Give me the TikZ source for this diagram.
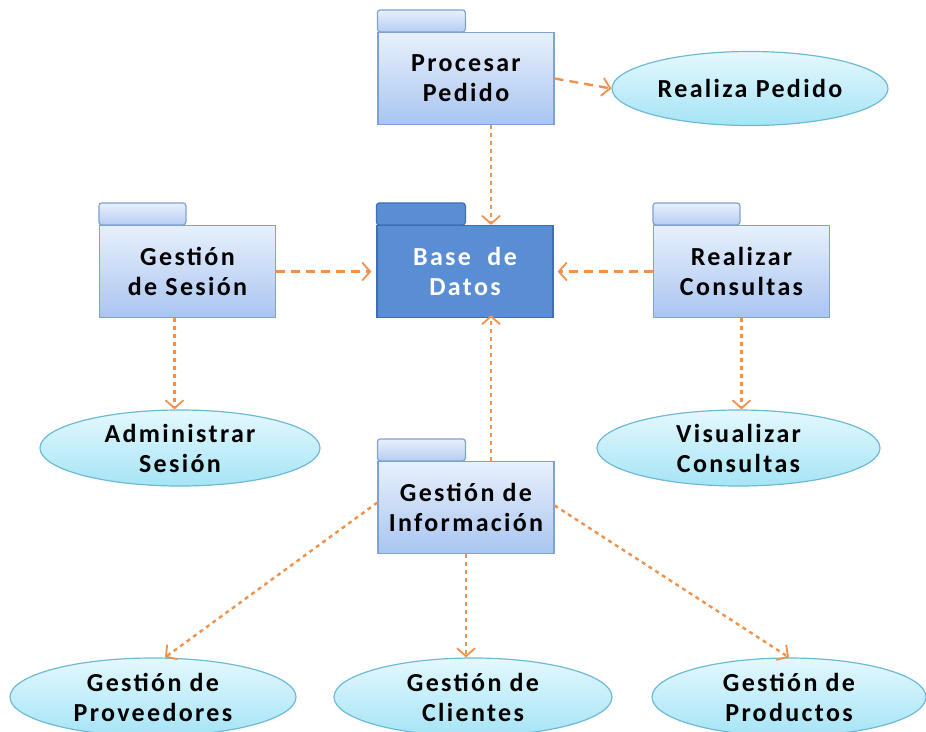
\documentclass[tikz,border=0pt]{standalone}
\usepackage{fontspec}
\setmainfont{Carlito}
\newfontfamily\lblfont[LetterSpace=9]{Carlito}
\usetikzlibrary{shapes.geometric,arrows.meta}
\definecolor{pkgtop}{HTML}{E8F0FC}
\definecolor{pkgbot}{HTML}{A9C5F0}
\definecolor{pkgline}{HTML}{7FA2D4}
\definecolor{dbfill}{HTML}{5A8ED4}
\definecolor{dbline}{HTML}{3F6FB0}
\definecolor{ucatop}{HTML}{E4F8FE}
\definecolor{ucabot}{HTML}{A6E4F5}
\definecolor{ucaline}{HTML}{6DBAD6}
\definecolor{arr}{HTML}{F0924C}
\begin{document}
\begin{tikzpicture}[x=1pt,y=-1pt,
  lbl/.style={font=\lblfont\bfseries\fontsize{26}{30}\selectfont},
  pkg/.style={draw=pkgline,line width=1.2pt,top color=pkgtop,bottom color=pkgbot,
    minimum width=176pt,minimum height=92pt,inner sep=0pt,align=center,lbl},
  pkgtab/.style={draw=pkgline,line width=1.2pt,top color=pkgtop,bottom color=pkgbot!80!pkgtop,rounded corners=3pt},
  dbpkg/.style={pkg,draw=dbline,fill=dbfill,top color=dbfill,bottom color=dbfill,text=white},
  dbtab/.style={draw=dbline,line width=1.2pt,fill=dbfill,rounded corners=3pt},
  uc/.style={ellipse,draw=ucaline,line width=1.2pt,top color=ucatop,bottom color=ucabot,
    inner sep=0pt,align=center,lbl},
  dep/.style={draw=arr,line width=2.4pt,dash pattern=on 9pt off 6pt,
    -{Straight Barb[length=8pt,width=18pt,line width=1.8pt]}},
  depd/.style={dep,dash pattern=on 4pt off 4pt}
]
\useasboundingbox (0,0) rectangle (926,731);

% packages
\node[pkg] (proc) at (466,78.5) {Procesar\\Pedido};
\node[pkg] (ses) at (187.5,271.5) {Gesti\'on\\de Sesi\'on};
\node[dbpkg] (db) at (465,271.5) {Base\ \ de\\Datos};
\node[pkg] (cons) at (741.5,271.5) {Realizar\\Consultas};
\node[pkg] (info) at (466,507.5) {Gesti\'on de\\Informaci\'on};

\draw[pkgtab] (proc.north west) rectangle ++(88,-22);
\draw[pkgtab] (ses.north west) rectangle ++(87,-22);
\draw[dbtab] (db.north west) rectangle ++(89,-22);
\draw[pkgtab] (cons.north west) rectangle ++(87,-22);
\draw[pkgtab] (info.north west) rectangle ++(88,-22);
% redraw bodies on top of tabs
\node[pkg] at (proc) {Procesar\\Pedido};
\node[pkg] at (ses) {Gesti\'on\\de Sesi\'on};
\node[dbpkg] at (db) {Base\ \ de\\Datos};
\node[pkg] at (cons) {Realizar\\Consultas};
\node[pkg] at (info) {Gesti\'on de\\Informaci\'on};

% use cases
\node[uc,minimum width=276pt,minimum height=74pt] (real) at (750,88.5) {Realiza Pedido};
\node[uc,minimum width=280pt,minimum height=76pt] (adm) at (180,448) {Administrar\\Sesi\'on};
\node[uc,minimum width=283pt,minimum height=76pt] (vis) at (738.5,448) {Visualizar\\Consultas};
\node[uc,minimum width=286pt,minimum height=78pt] (prov) at (153,697) {Gesti\'on de\\Proveedores};
\node[uc,minimum width=278pt,minimum height=78pt] (cli) at (473,697) {Gesti\'on de\\Clientes};
\node[uc,minimum width=274pt,minimum height=78pt] (prod) at (789,697) {Gesti\'on de\\Productos};

% dependencies
\draw[dep] (proc.east) -- (real.west);
\draw[depd] (proc.south -| db.north) ++(26,0) coordinate (p1) -- (p1 |- db.north);
\draw[dep] (ses.east) -- ([xshift=-5pt]db.west);
\draw[dep] (cons.west) -- ([xshift=4pt]db.east);
\draw[depd] ([xshift=-13pt]ses.south) coordinate (s1) -- (s1 |- adm.north);
\draw[depd] (cons.south) coordinate (c1) -- (c1 |- vis.north);
\draw[depd] ([xshift=25pt]info.north) coordinate (i1) -- ([yshift=3pt]i1 |- db.south);
\draw[depd] ([yshift=5pt]info.west) -- ([xshift=12pt]prov.north);
\draw[depd] (info.south) coordinate (i2) -- (i2 |- cli.north);
\draw[depd] ([yshift=2pt]info.east) -- (prod.north);
\end{tikzpicture}
\end{document}
